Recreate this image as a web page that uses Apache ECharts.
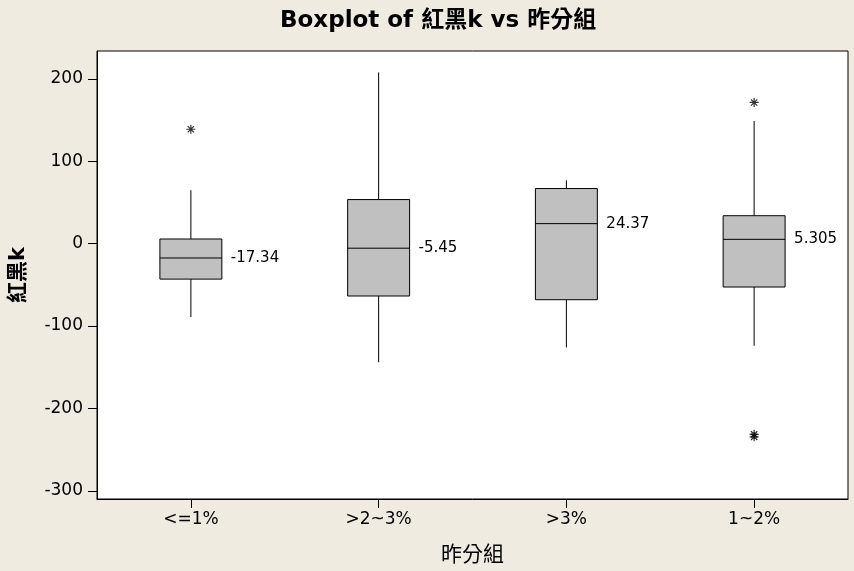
<!DOCTYPE html>
<html>
<head>
<meta charset="utf-8">
<script src="https://cdn.jsdelivr.net/npm/echarts@6/dist/echarts.min.js"></script>
<style>
html,body{margin:0;padding:0;background:#EFEBE1;}
#c{width:854px;height:571px;}
</style>
</head>
<body>
<div id="c"></div>
<script>
// ---- data ----
var categories = ['<=1%', '>2~3%', '>3%', '1~2%'];
// [whiskerLow, Q1, median, Q3, whiskerHigh]
var whiskerLow  = [-89, -144, -126, -124];
var q1Values    = [-43, -63.5, -68, -52.6];
var medians     = [-17.34, -5.45, 24.37, 5.305];
var q3Values    = [5.7, 53.6, 67, 34];
var whiskerHigh = [65, 208, 77, 149];
var medianLabels = ['-17.34', '-5.45', '24.37', '5.305'];
// outliers: [categoryIndex, value]
var outliers = [[0, 139], [3, 171.5], [3, -231.5], [3, -234.5]];
var yTicks = [-300, -200, -100, 0, 100, 200];

var boxData = categories.map(function (c, i) {
  return [i, whiskerLow[i], q1Values[i], medians[i], q3Values[i], whiskerHigh[i]];
});

var FONT = "'DejaVu Sans', 'Noto Sans CJK TC', sans-serif";
var chart = echarts.init(document.getElementById('c'));

chart.setOption({
  backgroundColor: '#EFEBE1',
  animation: false,
  title: {
    text: 'Boxplot of 紅黑k vs 昨分組',
    left: 275,
    top: 5,
    textStyle: { fontFamily: FONT, fontSize: 23, fontWeight: 'bold', color: '#000' }
  },
  grid: {
    left: 97, right: 6, top: 51, bottom: 69,
    show: true, backgroundColor: '#fff', borderColor: '#000', borderWidth: 1
  },
  xAxis: {
    type: 'category',
    data: categories,
    boundaryGap: true,
    name: '昨分組',
    nameLocation: 'middle',
    nameGap: 46,
    nameTextStyle: { fontFamily: FONT, fontSize: 21, color: '#000' },
    axisLine: { show: true, onZero: false, lineStyle: { color: '#000', width: 1 } },
    axisTick: { show: true, alignWithLabel: true, length: 9, lineStyle: { color: '#000' } },
    axisLabel: { fontFamily: FONT, fontSize: 17, color: '#000', margin: 12 },
    splitLine: { show: false }
  },
  yAxis: {
    type: 'value',
    min: -310,
    max: 234,
    name: '紅黑k',
    nameLocation: 'middle',
    nameGap: 68,
    nameRotate: 90,
    nameTextStyle: { fontFamily: FONT, fontSize: 21, fontWeight: 'bold', color: '#000' },
    axisLine: { show: true, onZero: false, lineStyle: { color: '#000', width: 1 } },
    axisTick: { show: true, length: 9, lineStyle: { color: '#000' }, customValues: yTicks },
    axisLabel: { fontFamily: FONT, fontSize: 17, color: '#000', margin: 14, customValues: yTicks },
    splitLine: { show: false }
  },
  series: [
    {
      type: 'custom',
      data: boxData,
      encode: { x: 0, y: [1, 2, 3, 4, 5] },
      renderItem: function (params, api) {
        var idx = api.value(0);
        var band = api.size([1, 0])[0];
        var w = band * 0.33;
        var pLow = api.coord([idx, api.value(1)]);
        var pQ1 = api.coord([idx, api.value(2)]);
        var pMed = api.coord([idx, api.value(3)]);
        var pQ3 = api.coord([idx, api.value(4)]);
        var pHigh = api.coord([idx, api.value(5)]);
        var x = pMed[0];
        var lineStyle = { stroke: '#000', lineWidth: 1 };
        return {
          type: 'group',
          children: [
            { type: 'line', shape: { x1: x, y1: pHigh[1], x2: x, y2: pQ3[1] }, style: lineStyle },
            { type: 'line', shape: { x1: x, y1: pQ1[1], x2: x, y2: pLow[1] }, style: lineStyle },
            { type: 'rect', shape: { x: x - w / 2, y: pQ3[1], width: w, height: pQ1[1] - pQ3[1] },
              style: { fill: '#C0C0C0', stroke: '#000', lineWidth: 1 } },
            { type: 'line', shape: { x1: x - w / 2, y1: pMed[1], x2: x + w / 2, y2: pMed[1] }, style: lineStyle },
            { type: 'text', x: x + w / 2 + 9, y: pMed[1],
              style: { text: medianLabels[params.dataIndex], fill: '#000', fontFamily: FONT, fontSize: 15,
                       align: 'left', verticalAlign: 'middle' } }
          ]
        };
      }
    },
    {
      type: 'scatter',
      data: outliers,
      symbol: 'path://M4,0L4,8M0,4L8,4M1.2,1.2L6.8,6.8M1.2,6.8L6.8,1.2',
      symbolSize: 9,
      itemStyle: { color: 'none', borderColor: '#000', borderWidth: 1.2 }
    }
  ]
});
</script>
</body>
</html>
